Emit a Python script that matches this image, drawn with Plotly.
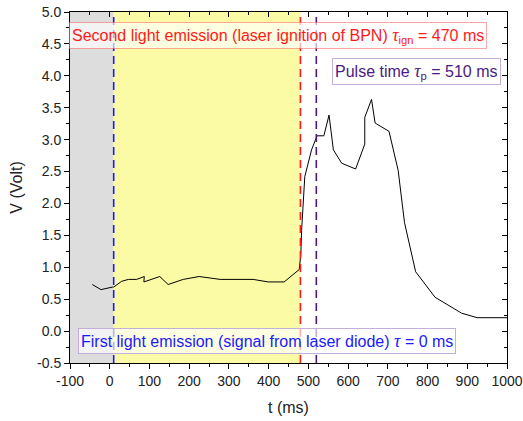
import plotly.graph_objects as go

# data
t_ms = [-44, -22, 7, 10, 30, 47, 68, 80, 87, 86, 126, 147, 185, 225, 278, 361, 399, 439, 477,
        481, 483, 491, 508, 522, 539, 552, 563, 584, 619, 642, 642, 659, 668, 703, 726, 742,
        770, 819, 886, 925, 1000]
volt = [0.73, 0.65, 0.69, 0.69, 0.78, 0.81, 0.81, 0.84, 0.855, 0.77, 0.855, 0.73, 0.81, 0.855,
        0.81, 0.81, 0.77, 0.77, 0.965, 1.2, 1.58, 2.42, 2.84, 3.06, 3.06, 3.385, 2.84, 2.63, 2.54,
        2.93, 3.35, 3.63, 3.26, 3.13, 2.52, 1.70, 0.93, 0.53, 0.28, 0.21, 0.21]

gray_region = [-100, 10]
yellow_region = [10, 480]
event_times = [10, 480, 520]
event_colors = ["#1a1aff", "#ff1a1a", "#4b1a82"]

x_range = [-100, 1000]
y_range = [-0.5, 5.0]
x_ticks = [-100, 0, 100, 200, 300, 400, 500, 600, 700, 800, 900, 1000]
x_ticktext = ["-100", "0", "100", "200", "300", "400", "500", "600", "700", "800", "900", "1000"]
y_ticks = [-0.5, 0.0, 0.5, 1.0, 1.5, 2.0, 2.5, 3.0, 3.5, 4.0, 4.5, 5.0]
y_ticktext = ["-0.5", "0.0", "0.5", "1.0", "1.5", "2.0", "2.5", "3.0", "3.5", "4.0", "4.5", "5.0"]

fig = go.Figure()

fig.add_trace(go.Scatter(x=t_ms, y=volt, mode="lines",
                         line=dict(color="black", width=1), showlegend=False))
# overlay axes for inward ticks on top/right
fig.add_trace(go.Scatter(x=[x_range[0]], y=[y_range[0]], xaxis="x2", yaxis="y2",
                         mode="markers", marker=dict(opacity=0), showlegend=False, hoverinfo="skip"))

shapes = [
    dict(type="rect", xref="x", yref="paper", x0=gray_region[0], x1=gray_region[1], y0=0, y1=1,
         fillcolor="#dddddd", line=dict(width=0), layer="below"),
    dict(type="rect", xref="x", yref="paper", x0=yellow_region[0], x1=yellow_region[1], y0=0, y1=1,
         fillcolor="#fbfba6", line=dict(width=0), layer="below"),
]
for tx, c in zip(event_times, event_colors):
    shapes.append(dict(type="line", xref="x", yref="paper", x0=tx, x1=tx, y0=0, y1=1,
                       line=dict(color=c, width=1.6, dash="8px,5px"), layer="above"))

tau = "<span style=\"font-family:'Liberation Serif';font-size:18px\"><i>τ</i></span>"
afont = "Liberation Sans, Arial"
annotations = [
    dict(x=424.8, y=4.63, xref="x", yref="y", showarrow=False,
         text="Second light emission (laser ignition of BPN) " + tau + "<sub>ign</sub> = 470 ms",
         font=dict(family=afont, size=16, color="#ff1a1a"),
         bgcolor="rgba(255,255,255,0.65)", bordercolor="rgba(255,80,80,0.5)", borderwidth=1, borderpad=2),
    dict(x=772, y=4.06, xref="x", yref="y", showarrow=False,
         text="Pulse time " + tau + "<sub>p</sub> = 510 ms",
         font=dict(family=afont, size=16, color="#4b1a82"),
         bgcolor="white", bordercolor="#c3b0da", borderwidth=1, borderpad=2),
    dict(x=395.8, y=-0.149, xref="x", yref="y", showarrow=False,
         text="First light emission (signal from laser diode) " + tau + " = 0 ms",
         font=dict(family=afont, size=16, color="#1a1aff"),
         bgcolor="rgba(255,255,255,0.65)", bordercolor="#c3b0da", borderwidth=1, borderpad=2),
]

tickfont = dict(family="Liberation Sans, Arial", size=14, color="#222")
titlefont = dict(family="Liberation Sans, Arial", size=16, color="#222")
fig.update_layout(
    width=523, height=421,
    margin=dict(l=70, r=16, t=12, b=58),
    paper_bgcolor="white", plot_bgcolor="white",
    shapes=shapes, annotations=annotations,
    xaxis=dict(range=x_range, tickmode="array", tickvals=x_ticks, ticktext=x_ticktext,
               showgrid=False, zeroline=False, automargin=False,
               showline=True, linecolor="black", linewidth=1,
               ticks="outside", ticklen=5, tickcolor="black", tickfont=tickfont,
               minor=dict(dtick=50, tick0=0, ticks="outside", ticklen=3, tickcolor="black"),
               title=dict(text="t (ms)", font=titlefont, standoff=14)),
    yaxis=dict(range=y_range, tickmode="array", tickvals=y_ticks, ticktext=y_ticktext,
               showgrid=False, zeroline=False, automargin=False,
               showline=True, linecolor="black", linewidth=1,
               ticks="outside", ticklen=5, tickcolor="black", tickfont=tickfont,
               minor=dict(dtick=0.25, tick0=0, ticks="outside", ticklen=3, tickcolor="black"),
               title=dict(text="V (Volt)", font=titlefont, standoff=10)),
    xaxis2=dict(range=x_range, overlaying="x", side="top", dtick=100, tick0=0, showgrid=False,
                zeroline=False, showline=True, linecolor="black", linewidth=1, automargin=False,
                ticks="inside", ticklen=5, tickcolor="black", showticklabels=False,
                minor=dict(dtick=50, ticks="inside", ticklen=3, tickcolor="black")),
    yaxis2=dict(range=y_range, overlaying="y", side="right", dtick=0.5, tick0=0, showgrid=False,
                zeroline=False, showline=True, linecolor="black", linewidth=1, automargin=False,
                ticks="inside", ticklen=5, tickcolor="black", showticklabels=False,
                minor=dict(dtick=0.25, ticks="inside", ticklen=3, tickcolor="black")),
)

fig.write_html("out.html")
